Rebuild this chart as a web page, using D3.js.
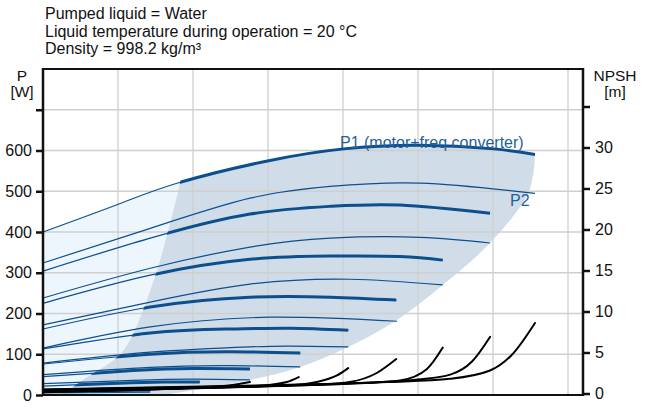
<!DOCTYPE html>
<html lang="en">
<head>
    <meta charset="UTF-8">
    <title>Pump curves</title>
    <script src="https://cdn.jsdelivr.net/npm/d3@7/dist/d3.min.js"></script>
    <style>
        body {
            margin: 0;
            padding: 0;
            background: #fff;
        }
        text {
            font-family: "Liberation Sans", Arial, sans-serif;
            fill: #111;
        }
        .grid line {
            stroke: #cfcfcf;
            stroke-width: 1.3;
        }
        .p1 {
            fill: none;
            stroke: #0b4f8e;
        }
        .p2 {
            fill: none;
            stroke: #0b4f8e;
            stroke-width: 1.2;
        }
        .npsh {
            fill: none;
            stroke: #000;
            stroke-width: 2;
            stroke-linecap: round;
        }
    </style>
</head>
<body>
<svg width="648" height="412"></svg>
<script>
    // header lines
    var infoLines = ['Pumped liquid = Water', 'Liquid temperature during operation = 20 \u00b0C', 'Density = 998.2 kg/m\u00b3'];

    // ticks
    var pTicks = [0, 100, 200, 300, 400, 500, 600, 700];
    var pLabels = ['0', '100', '200', '300', '400', '500', '600', ''];
    var npshTicks = [0, 5, 10, 15, 20, 25, 30, 35];
    var npshLabels = ['0', '5', '10', '15', '20', '25', '30', ''];
    var qGrid = [1, 2, 3, 4, 5, 6, 7];

    // P1 (motor+freq converter) for each speed, [Q, W]
    var p1Curves = [
        [[0, 400], [1.03, 470], [1.83, 522], [3.01, 575], [4.01, 604], [5.01, 613], [6.01, 604], [6.56, 590]],
        [[0, 304], [1.43, 385], [2.76, 444], [3.83, 463], [4.76, 466], [5.96, 446]],
        [[0, 225], [1.43, 294], [2.76, 333], [3.83, 341], [4.76, 340], [5.33, 331]],
        [[0, 162], [1.43, 216], [2.76, 240], [3.83, 240], [4.71, 233]],
        [[0, 113], [1.43, 152], [2.5, 162], [3.3, 164], [4.07, 159]],
        [[0, 76], [1.43, 100], [2.5, 106], [3.43, 103]],
        [[0, 45], [1.2, 60], [2.0, 65], [2.76, 64]],
        [[0, 22], [1.0, 29], [1.6, 32], [2.09, 32]],
        [[0, 9], [0.8, 11], [1.43, 12]]
    ];

    // P2 for each speed, [Q, W]
    var p2Curves = [
        [[0, 324], [1.43, 409], [2.76, 483], [3.83, 512], [5.03, 520], [6.56, 495]],
        [[0, 238], [1.43, 311], [2.76, 363], [3.83, 385], [5.03, 387], [5.96, 373]],
        [[0, 172], [1.43, 228], [2.76, 272], [4.09, 284], [5.33, 270]],
        [[0, 115], [1.43, 167], [3.03, 191], [4.72, 181]],
        [[0, 78], [1.43, 105], [2.76, 118], [3.3, 120], [4.07, 118]],
        [[0, 50], [1.43, 68], [2.5, 72], [3.43, 69]],
        [[0, 28], [1.2, 36], [2.0, 39], [2.76, 37]],
        [[0, 13], [1.0, 17], [2.09, 18]],
        [[0, 5], [1.43, 7]]
    ];

    // NPSH for each speed, [Q, m]
    var npshCurves = [
        [[0, 0.5], [3, 1.0], [4.6, 1.4], [5.43, 1.8], [5.96, 2.8], [6.25, 4.7], [6.56, 8.6]],
        [[0, 0.45], [3, 0.95], [4.3, 1.3], [5.0, 1.7], [5.43, 2.3], [5.72, 3.9], [5.96, 6.9]],
        [[0, 0.4], [3, 0.9], [4.2, 1.25], [4.76, 1.6], [5.12, 3.0], [5.33, 5.6]],
        [[0, 0.35], [2.5, 0.8], [3.7, 1.1], [4.09, 1.4], [4.45, 2.5], [4.71, 4.2]],
        [[0, 0.3], [2.2, 0.7], [3.3, 1.0], [3.65, 1.4], [3.92, 2.2], [4.07, 3.1]],
        [[0, 0.25], [2.0, 0.65], [2.9, 0.95], [3.25, 1.4], [3.41, 2.0]],
        [[0, 0.2], [1.6, 0.55], [2.4, 0.9], [2.76, 1.4]],
        [[0, 0.15], [1.2, 0.45], [2.09, 0.8]]
    ];

    // operating range edges, [Q, W]
    var leftEdge = [[1.83, 522], [1.52, 306], [1.16, 135], [0.99, 93], [0.53, 37], [0.29, 7], [0.2, 0]];
    var rightEdge = [[6.56, 590], [6.48, 500], [5.96, 373], [5.33, 270], [4.71, 183], [4.07, 118], [3.43, 69], [2.76, 37], [2.09, 15], [1.6, 0]];

    var svg = d3.select('svg');

    var x = d3.scaleLinear().domain([0, 7.2]).range([43, 583]);
    var yP = d3.scaleLinear().domain([0, 800]).range([395, 69]);
    var yN = d3.scaleLinear().domain([0, 40]).range([393.5, 65.5]);

    var lineP = d3.line()
            .x(function(d) { return x(d[0]); })
            .y(function(d) { return yP(d[1]); })
            .curve(d3.curveNatural);
    var lineN = d3.line()
            .x(function(d) { return x(d[0]); })
            .y(function(d) { return yN(d[1]); })
            .curve(d3.curveMonotoneX);

    // header
    svg.selectAll('text.info').data(infoLines).enter().append('text')
            .attr('class', 'info')
            .attr('x', 45)
            .attr('y', function(d, i) { return 19 + i * 17.5; })
            .style('font-size', '16px')
            .text(function(d) { return d; });

    // regions
    var topPath = lineP(p1Curves[0]);
    function pPath(pts) {
        return pts.map(function(d) { return [x(d[0]), yP(d[1])]; });
    }
    var edgeLine = d3.line().curve(d3.curveCatmullRom);
    var leftDown = edgeLine(pPath(leftEdge));
    var leftUp = edgeLine(pPath(leftEdge.slice().reverse()));
    var rightPath = edgeLine(pPath(rightEdge));

    // everything under the top curve
    var underTop = topPath + 'L' + x(6.56) + ',' + yP(0) + 'L' + x(0) + ',' + yP(0) + 'Z';
    svg.append('clipPath').attr('id', 'under').append('path').attr('d', underTop);

    // light zone: left of the left edge
    var lightPath = 'M' + x(0) + ',' + yP(800) + 'L' + x(1.83) + ',' + yP(800) +
            'L' + leftDown.slice(1) + 'L' + x(0) + ',' + yP(0) + 'Z';
    // dark zone between the two edges
    var darkPath = leftUp + 'L' + x(1.83) + ',' + yP(800) + 'L' + x(6.8) + ',' + yP(800) +
            'L' + rightPath.slice(1) + 'Z';
    svg.append('clipPath').attr('id', 'dark').append('path').attr('d', darkPath);

    var zones = svg.append('g').attr('clip-path', 'url(#under)');
    zones.append('path').attr('d', lightPath).attr('fill', '#eef6fd');
    zones.append('path').attr('d', darkPath).attr('fill', '#d0dce8');

    // grid over the zones
    var grid = svg.append('g').attr('class', 'grid');
    grid.selectAll('line.h').data(pTicks.slice(1)).enter().append('line')
            .attr('x1', 43).attr('x2', 583)
            .attr('y1', function(d) { return yP(d); })
            .attr('y2', function(d) { return yP(d); });
    grid.selectAll('line.v').data(qGrid).enter().append('line')
            .attr('y1', 69).attr('y2', 395)
            .attr('x1', function(d) { return x(d); })
            .attr('x2', function(d) { return x(d); });

    // P2 curves
    svg.selectAll('path.p2').data(p2Curves).enter().append('path')
            .attr('class', 'p2')
            .attr('d', lineP);

    // P1 thin everywhere, thick inside the operating range
    svg.selectAll('path.p1thin').data(p1Curves).enter().append('path')
            .attr('class', 'p1 p1thin')
            .attr('stroke-width', 1.2)
            .attr('d', lineP);
    svg.append('g').attr('clip-path', 'url(#dark)')
            .selectAll('path').data(p1Curves).enter().append('path')
            .attr('class', 'p1')
            .attr('stroke-width', 3)
            .attr('d', lineP);

    // NPSH
    svg.selectAll('path.npsh').data(npshCurves).enter().append('path')
            .attr('class', 'npsh')
            .attr('d', lineN);

    // labels on curves
    svg.append('text').attr('x', 340).attr('y', 148)
            .style('font-size', '16px').style('fill', '#1f5f9c')
            .text('P1 (motor+freq converter)');
    svg.append('text').attr('x', 510).attr('y', 206)
            .style('font-size', '16px').style('fill', '#1f5f9c')
            .text('P2');

    // frame and axes
    svg.append('line').attr('x1', 43).attr('x2', 583).attr('y1', 69).attr('y2', 69)
            .attr('stroke', '#111').attr('stroke-width', 2);
    svg.append('line').attr('x1', 43).attr('x2', 583).attr('y1', 395).attr('y2', 395)
            .attr('stroke', '#111').attr('stroke-width', 2);

    var leftAxis = d3.axisLeft(yP).tickValues(pTicks).tickSize(7).tickPadding(4)
            .tickFormat(function(d, i) { return pLabels[i]; });
    var gl = svg.append('g').attr('transform', 'translate(43,0)').call(leftAxis);
    var rightAxis = d3.axisRight(yN).tickValues(npshTicks).tickSize(7).tickPadding(5)
            .tickFormat(function(d, i) { return npshLabels[i]; });
    var gr = svg.append('g').attr('transform', 'translate(583,0)').call(rightAxis);
    [gl, gr].forEach(function(g) {
        g.select('.domain').attr('d', 'M0,68V396').attr('stroke', '#111').attr('stroke-width', 2.5);
        g.selectAll('.tick line').attr('stroke', '#111').attr('stroke-width', 2.5);
        g.selectAll('.tick text').style('font-size', '16px')
                .style('font-family', '"Liberation Sans", Arial, sans-serif').attr('fill', '#111');
    });

    // axis titles
    svg.append('text').attr('x', 22).attr('y', 81).attr('text-anchor', 'middle').style('font-size', '15.5px').text('P');
    svg.append('text').attr('x', 22).attr('y', 97).attr('text-anchor', 'middle').style('font-size', '15.5px').text('[W]');
    svg.append('text').attr('x', 615).attr('y', 81).attr('text-anchor', 'middle').style('font-size', '15.5px').text('NPSH');
    svg.append('text').attr('x', 615).attr('y', 97).attr('text-anchor', 'middle').style('font-size', '15.5px').text('[m]');
</script>
</body>
</html>
